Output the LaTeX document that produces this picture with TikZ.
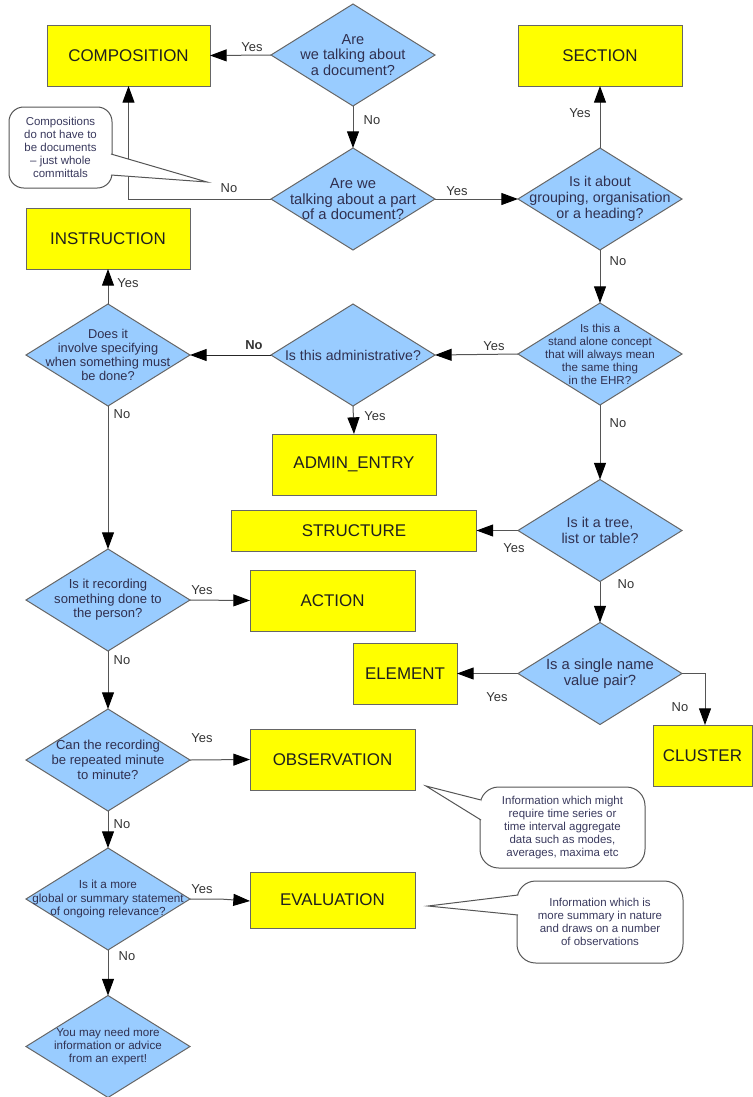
\documentclass[tikz,border=0pt]{standalone}
\usepackage{fontspec}
\setmainfont{Liberation Sans}
\usetikzlibrary{arrows.meta,shapes.geometric,calc}
\definecolor{boxfill}{HTML}{FFFF00}
\definecolor{diafill}{HTML}{99CCFF}
\definecolor{edgegray}{HTML}{666666}
\definecolor{linegray}{HTML}{555555}
\definecolor{diatext}{HTML}{303050}
\definecolor{notetext}{HTML}{3A3A5E}
\definecolor{labtext}{HTML}{333333}

\begin{document}
\begin{tikzpicture}[x=0.75pt,y=-0.75pt,
  box/.style={draw=edgegray, fill=boxfill, line width=0.75pt, inner sep=0pt, outer sep=0pt,
    font=\fontsize{12.7}{14}\selectfont, text=black!88},
  dia/.style={shape=diamond, draw=edgegray, fill=diafill, line width=0.75pt, inner sep=0pt,
    outer sep=0pt, minimum width=123pt, minimum height=76.5pt},
  dtxt/.style={align=center, inner sep=0pt, text=diatext},
  conn/.style={draw=linegray, line width=0.75pt, -{Triangle[length=12.5pt,width=9pt,color=black]}},
  lab/.style={font=\fontsize{9.7}{11}\selectfont, text=labtext, inner sep=0pt},
  note/.style={draw=linegray, fill=white, line width=0.75pt, align=center, inner sep=0pt,
    outer sep=0pt, text=notetext, font=\fontsize{8.6}{9.75}\selectfont},
  pointer/.style={draw=linegray, line width=0.75pt}
]
\useasboundingbox (0,0) rectangle (753,1097);

% ---------- outcome boxes ----------
\node[box, minimum width=122.25pt, minimum height=45.75pt] (comp) at (128.5,55.5) {COMPOSITION};
\node[box, minimum width=123pt, minimum height=45.75pt] (sect) at (600,55.5) {SECTION};
\node[box, minimum width=123pt, minimum height=45.75pt] (instr) at (108,238.5) {INSTRUCTION};
\node[box, minimum width=123pt, minimum height=45.75pt] (admin) at (354,464.5) {ADMIN\_ENTRY};
\node[box, minimum width=183.75pt, minimum height=30.75pt] (struct) at (354,531) {STRUCTURE};
\node[box, minimum width=78pt, minimum height=45.75pt] (elem) at (405,673.5) {ELEMENT};
\node[box, minimum width=74.25pt, minimum height=45.75pt] (clust) at (702.5,755.5) {CLUSTER};
\node[box, minimum width=123.75pt, minimum height=45.75pt] (act) at (332.5,600.5) {ACTION};
\node[box, minimum width=123.75pt, minimum height=45.75pt] (obs) at (332.5,759.5) {OBSERVATION};
\node[box, minimum width=123.75pt, minimum height=42pt] (eval) at (332.5,900) {EVALUATION};

% ---------- decision diamonds ----------
\node[dia, label={[dtxt, font=\fontsize{10.9}{11.6}\selectfont]center:{Are\\we talking about\\a document?}}] (qdoc) at (353,55) {};
\node[dia, label={[dtxt, font=\fontsize{11.1}{11.8}\selectfont]center:{Are we\\talking about a part\\of a document?}}] (qpart) at (353,199) {};
\node[dia, label={[dtxt, font=\fontsize{10.7}{11.8}\selectfont]center:{Is it about\\grouping, organisation\\or a heading?}}] (qgroup) at (600,199) {};
\node[dia, label={[dtxt, font=\fontsize{8.7}{9.75}\selectfont]center:{Is this a\\stand alone concept\\that will always mean\\the same thing\\in the EHR?}}] (qstand) at (600,354) {};
\node[dia, label={[dtxt, font=\fontsize{10.6}{12}\selectfont]center:{Is this administrative?}}] (qadmin) at (353,355) {};
\node[dia, label={[dtxt, font=\fontsize{9.6}{10.7}\selectfont]center:{Does it\\involve specifying\\when something must\\be done?}}] (qwhen) at (108,355) {};
\node[dia, label={[dtxt, font=\fontsize{10.7}{11.6}\selectfont]center:{Is it a tree,\\list or table?}}] (qtree) at (600,530.5) {};
\node[dia, label={[dtxt, font=\fontsize{11.1}{12}\selectfont]center:{Is a single name\\value pair?}}] (qpair) at (600,673.5) {};
\node[dia, label={[dtxt, font=\fontsize{9.8}{10.9}\selectfont]center:{Is it recording\\something done to\\the person?}}] (qrec) at (108,600) {};
\node[dia, label={[dtxt, font=\fontsize{9.8}{11.2}\selectfont]center:{Can the recording\\be repeated minute\\to minute?}}] (qrep) at (108,760) {};
\node[dia, label={[dtxt, font=\fontsize{8.8}{10.1}\selectfont]center:{Is it a more\\global or summary statement\\of ongoing relevance?}}] (qglob) at (108,899) {};
\node[dia, label={[dtxt, font=\fontsize{8.7}{10.1}\selectfont]center:{You may need more\\information or advice\\from an expert!}}] (qexp) at (108,1046.5) {};

% ---------- connectors ----------
\draw[conn] (qdoc.west) -- (comp.east);
\draw[conn] (qdoc.south) -- (qpart.north);
\draw[conn] (qpart.west) -| (comp.south);
\draw[conn] (qpart.east) -- (qgroup.west);
\draw[conn] (qgroup.north) -- (sect.south);
\draw[conn] (qgroup.south) -- (qstand.north);
\draw[conn] (qstand.west) -- (qadmin.east);
\draw[conn, draw=black!85] (qadmin.west) -- (qwhen.east);
\draw[conn] (qadmin.south) -- (admin.north);
\draw[conn] (qwhen.north) -- (instr.south);
\draw[conn] (qwhen.south) -- (qrec.north);
\draw[conn] (qstand.south) -- (qtree.north);
\draw[conn] (qtree.west) -- (struct.east |- qtree.west);
\draw[conn] (qtree.south) -- (qpair.north);
\draw[conn] (qpair.west) -- (elem.east);
\draw[conn] (qpair.east) -| ($(clust.north)+(2.5,0)$);
\draw[conn] (qrec.east) -- (act.west);
\draw[conn] (qrec.south) -- (qrep.north);
\draw[conn] (qrep.east) -- (obs.west);
\draw[conn] (qrep.south) -- (qglob.north);
\draw[conn] (qglob.east) -- ++(30,0) -- ($(eval.west)+(0,1)$);
\draw[conn] (qglob.south) -- (qexp.north);

% ---------- branch labels ----------
\node[lab] (l1) at (252,47) {Yes};
\node[lab] (l2) at (372,120) {No};
\node[lab] (l3) at (229,188) {No};
\node[lab] (l4) at (457,191) {Yes};
\node[lab] (l5) at (580,113) {Yes};
\node[lab] (l6) at (618,261) {No};
\node[lab] (l7) at (494,346) {Yes};
\node[lab, font=\bfseries\fontsize{9.7}{11}\selectfont] (l8) at (254,345) {No};
\node[lab] (l9) at (375,416) {Yes};
\node[lab] (l10) at (128,283) {Yes};
\node[lab] (l11) at (122,414) {No};
\node[lab] (l12) at (618,423) {No};
\node[lab] (l13) at (514,548) {Yes};
\node[lab] (l14) at (626,584) {No};
\node[lab] (l15) at (497,697) {Yes};
\node[lab] (l16) at (680,707) {No};
\node[lab] (l17) at (202,590) {Yes};
\node[lab] (l18) at (122,660) {No};
\node[lab] (l19) at (202,738) {Yes};
\node[lab] (l20) at (122,824) {No};
\node[lab] (l21) at (202,889) {Yes};
\node[lab] (l22) at (127,956) {No};

% ---------- notes with pointers ----------
\node[note, rounded corners=11pt, minimum width=77.25pt, minimum height=60.75pt] (n1) at (60.5,147.5)
  {Compositions\\do not have to\\be documents\\– just whole\\committals};
\coordinate (n1tip) at (207,182);
\fill[white] ($(n1.east)+(-1,6.5)$) -- (n1tip) -- ($(n1.east)+(-1,27.5)$) -- cycle;
\draw[pointer] ($(n1.east)+(-1,6.5)$) -- (n1tip) -- ($(n1.east)+(-1,27.5)$);

\node[note, rounded corners=14pt, minimum width=123.75pt, minimum height=60.75pt] (n2) at (562.5,827.5)
  {Information which might\\require time series or\\time interval aggregate\\data such as modes,\\averages, maxima etc};
\coordinate (n2tip) at (426,786);
\fill[white] ($(n2.west)+(1,-27.5)$) -- (n2tip) -- ($(n2.west)+(1,-7.5)$) -- cycle;
\draw[pointer] ($(n2.west)+(1,-27.5)$) -- (n2tip) -- ($(n2.west)+(1,-7.5)$);

\node[note, rounded corners=14pt, minimum width=124.5pt, minimum height=61.5pt] (n3) at (600,922)
  {Information which is\\more summary in nature\\and draws on a number\\of observations};
\coordinate (n3tip) at (428,906);
\fill[white] ($(n3.west)+(1,-27)$) -- (n3tip) -- ($(n3.west)+(1,-7)$) -- cycle;
\draw[pointer] ($(n3.west)+(1,-27)$) -- (n3tip) -- ($(n3.west)+(1,-7)$);
\end{tikzpicture}
\end{document}
